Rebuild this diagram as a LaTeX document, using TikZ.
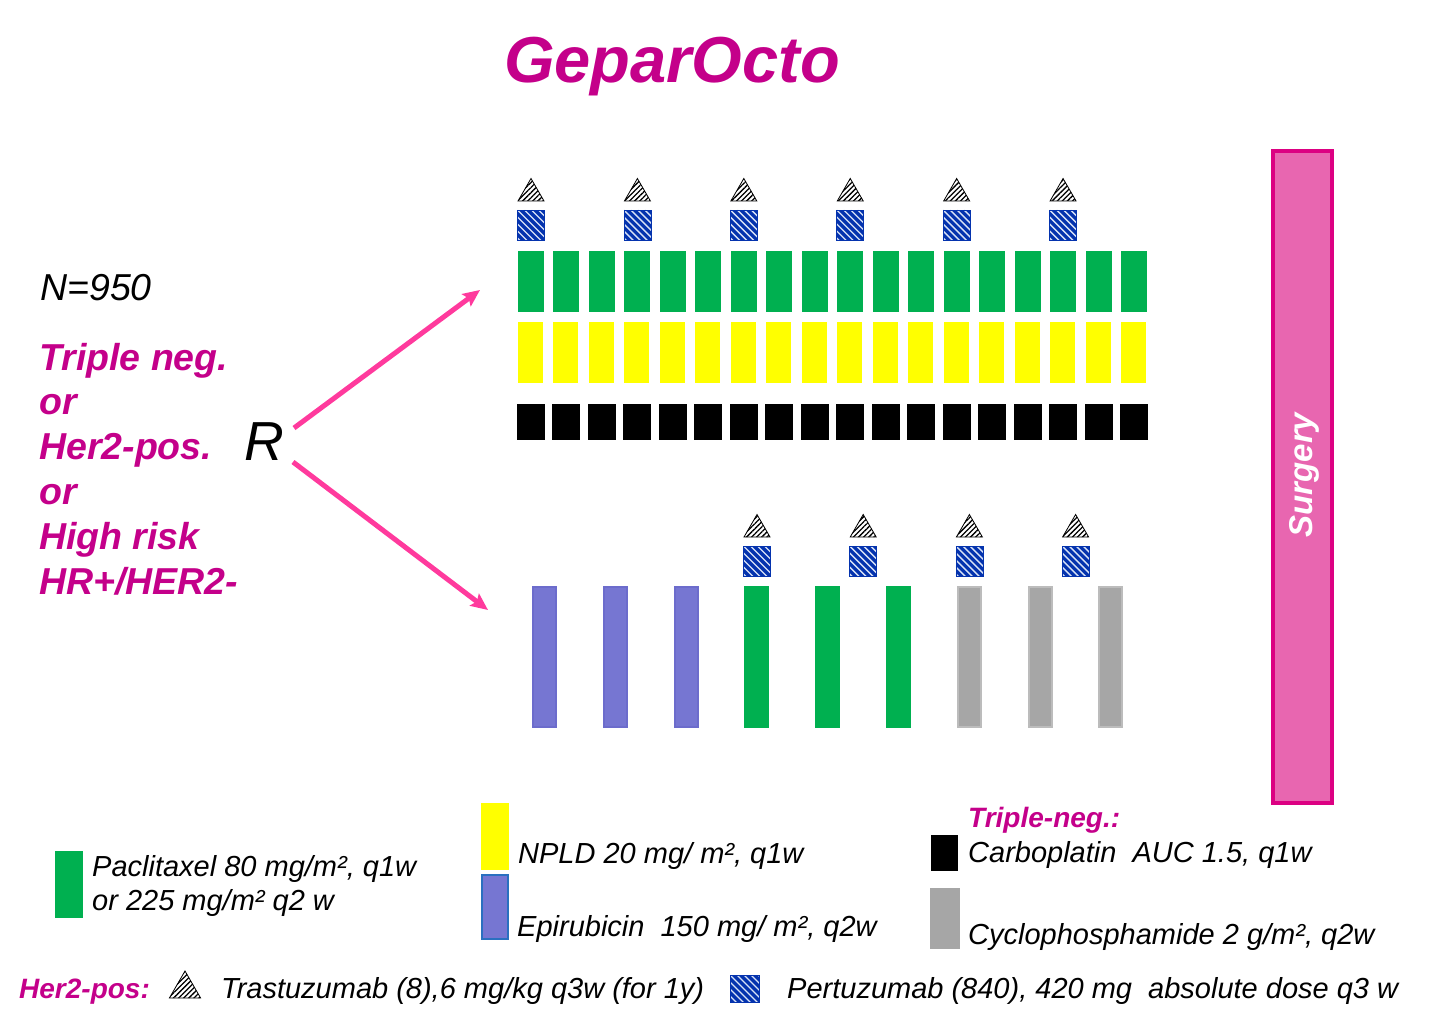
\documentclass[tikz,border=0pt]{standalone}
\usepackage{fontspec}
\setmainfont{Liberation Sans}
\usetikzlibrary{arrows.meta,patterns.meta,shapes.geometric,positioning}
\definecolor{paclgreen}{HTML}{00B050}
\definecolor{npldyellow}{HTML}{FFFF00}
\definecolor{epipurple}{HTML}{7676D2}
\definecolor{epiedge}{HTML}{6C6CCC}
\definecolor{cyclogray}{HTML}{A6A6A6}
\definecolor{cycloedge}{HTML}{BCBCBC}
\definecolor{pertblue}{HTML}{0433AE}
\definecolor{pertstripe}{HTML}{D8E2F6}
\definecolor{gepmagenta}{HTML}{C4008A}
\definecolor{armpink}{HTML}{FF3A9D}
\definecolor{surgfill}{HTML}{E866B0}
\definecolor{surgedge}{HTML}{DC0082}
\definecolor{keyedge}{HTML}{2A70C0}
\tikzset{
    drugbar/.style = {
        rectangle,
        inner sep=0pt,
        outer sep=0pt,
        anchor=north west
    },
    paclbar/.style = {
        drugbar,
        fill=paclgreen,
        minimum width=26pt,
        minimum height=61pt
    },
    npldbar/.style = {
        drugbar,
        fill=npldyellow,
        minimum width=25pt,
        minimum height=61pt
    },
    carbobar/.style = {
        drugbar,
        fill=black,
        minimum width=28pt,
        minimum height=36pt
    },
    lowbar/.style = {
        drugbar,
        line width=2pt,
        minimum width=23pt,
        minimum height=140pt
    },
    pertbox/.style = {
        rectangle,
        inner sep=0pt,
        outer sep=0pt,
        fill=pertblue,
        draw=pertblue,
        line width=0.8pt,
        minimum width=27pt,
        minimum height=30pt,
        path picture={
            \foreach \s in {-28,-21,...,28}
                \draw [pertstripe, line width=1.4pt]
                    ([xshift={\s pt}]path picture bounding box.north west) -- ++(32pt,-32pt);
        }
    },
    trastri/.style = {
        regular polygon,
        regular polygon sides=3,
        inner sep=0pt,
        outer sep=0pt,
        minimum size=30pt,
        draw=black,
        line width=0.8pt,
        pattern={Lines[angle=45,distance=3.6pt,line width=1.3pt]},
        pattern color=black
    },
    armarrow/.style = {
        draw=armpink,
        line width=5pt,
        -{Stealth[length=17pt,width=15pt,inset=3pt]}
    },
    titlelabel/.style = {
        font=\fontsize{65}{70}\selectfont\bfseries\itshape,
        text=gepmagenta,
        inner sep=0pt
    },
    condlabel/.style = {
        font=\fontsize{37.5}{44}\selectfont\bfseries\itshape,
        text=gepmagenta,
        inner sep=0pt,
        anchor=base west
    },
    keylabel/.style = {
        font=\fontsize{29}{35}\selectfont\itshape,
        inner sep=0pt,
        anchor=base west
    },
    keyhead/.style = {
        font=\fontsize{28}{34}\selectfont\bfseries\itshape,
        text=gepmagenta,
        inner sep=0pt,
        anchor=base west
    }
}
\begin{document}
\begin{tikzpicture}[x=1pt, y=-1pt]
    \useasboundingbox (0,0) rectangle (1443,1024);
    \node [titlelabel, anchor=base] (title) at (672,83) {GeparOcto};

    \node [keylabel, font=\fontsize{37.5}{44}\selectfont\itshape] (count) at (40,301) {N=950};
    \foreach \txt [count=\k from 0] in {Triple neg., or, Her2-pos., or, High risk, HR+/HER2-}
        \node [condlabel] (cond\k) at (39,{370+44.9*\k}) {\txt};
    \node [inner sep=0pt, font=\fontsize{55}{60}\selectfont\itshape] (rand) at (264,442) {R};
    \coordinate (uparm) at (480,290);
    \coordinate (lowarm) at (488,610);
    \draw [armarrow] ([shift={(30,-14)}]rand.center) -- (uparm);
    \draw [armarrow] ([shift={(29,20)}]rand.center) -- (lowarm);

    \foreach \i in {0,...,17}{
        \node [paclbar] (tpacl\i) at ({518+35.47*\i},251) {};
        \node [npldbar] (tnpld\i) at ({518+35.47*\i},322) {};
        \node [carbobar] (tcarbo\i) at ({517+35.47*\i},404) {};
    }
    \foreach \i in {0,3,...,15}{
        \node [pertbox, above=11pt of tpacl\i] (tpert\i) {};
        \node [trastri, anchor=south] (ttras\i) at ([yshift=9pt]tpert\i.north) {};
    }

    \foreach \j/\col/\edge in {0/epipurple/epiedge, 1/epipurple/epiedge, 2/epipurple/epiedge,
                               3/paclgreen/paclgreen, 4/paclgreen/paclgreen, 5/paclgreen/paclgreen,
                               6/cyclogray/cycloedge, 7/cyclogray/cycloedge, 8/cyclogray/cycloedge}
        \node [lowbar, fill=\col, draw=\edge] (low\j) at ({533+70.8*\j},587) {};
    \foreach \k in {0,...,3}{
        \node [pertbox, anchor=south] (bpert\k) at ({757+106.2*\k},576) {};
        \node [trastri, anchor=south] (btras\k) at ([yshift=9pt]bpert\k.north) {};
    }

    \node [rectangle, fill=surgfill, draw=surgedge, line width=4pt,
           minimum width=59pt, minimum height=652pt] (surgery) at (1302.5,477) {};
    \node [rotate=90, text=white, inner sep=0pt,
           font=\fontsize{33}{38}\selectfont\bfseries\itshape] (surgtext) at (1304,475) {Surgery};

    \node [paclbar, minimum width=28pt, minimum height=67pt] (keypacl) at (55,851) {};
    \node [keylabel] (keypacltxt) at (92,876) {Paclitaxel 80 mg/m², q1w};
    \node [keylabel] (keypacltxtb) at (92,910) {or 225 mg/m² q2 w};
    \node [npldbar, minimum width=28pt, minimum height=67pt] (keynpld) at (481,803) {};
    \node [keylabel] (keynpldtxt) at (518,863) {NPLD 20 mg/ m², q1w};
    \node [drugbar, fill=epipurple, draw=keyedge, line width=2pt,
           minimum width=26pt, minimum height=64pt] (keyepi) at (482,875) {};
    \node [keylabel] (keyepitxt) at (517,936) {Epirubicin\ \ 150 mg/ m², q2w};
    \node [keyhead] (keytn) at (968,827) {Triple-neg.:};
    \node [carbobar, minimum width=27pt, minimum height=36pt] (keycarbo) at (931,835) {};
    \node [keylabel] (keycarbotxt) at (968,862) {Carboplatin\ \ AUC 1.5, q1w};
    \node [drugbar, fill=cyclogray, minimum width=30pt, minimum height=61pt] (keycyclo) at (930,888) {};
    \node [keylabel] (keycyclotxt) at (968,944) {Cyclophosphamide 2 g/m², q2w};
    \node [keyhead] (keyher) at (19,998) {Her2-pos:};
    \node [trastri, minimum size=36pt, anchor=south] (keytras) at (185,998) {};
    \node [keylabel] (keytrastxt) at (221,998) {Trastuzumab (8),6 mg/kg q3w (for 1y)};
    \node [pertbox, anchor=north west, minimum width=29pt, minimum height=27pt] (keypert) at (730,975) {};
    \node [keylabel] (keyperttxt) at (787,998) {Pertuzumab (840), 420 mg\ \ absolute dose q3 w};
\end{tikzpicture}
\end{document}
